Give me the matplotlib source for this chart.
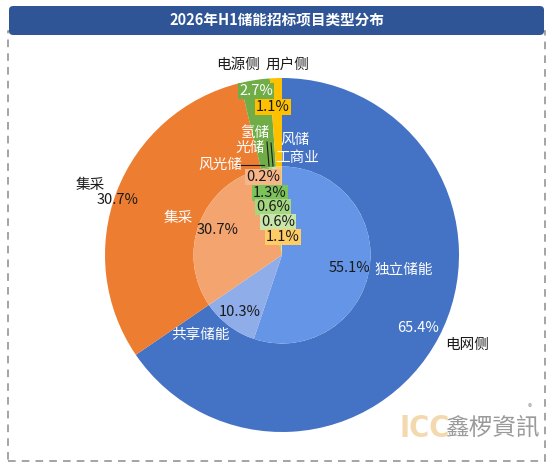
import matplotlib
matplotlib.use("Agg")
import matplotlib.pyplot as plt
from matplotlib.patches import FancyBboxPatch, Rectangle

plt.rcParams['font.family'] = ['Noto Sans CJK SC', 'DejaVu Sans']

# outer ring: segment groups
outer_names = ["电网侧", "集采", "电源侧", "用户侧"]
outer_vals = [65.4, 30.7, 2.7, 1.1]
outer_colors = ["#4472C4", "#ED7D31", "#70AD47", "#FFC000"]

# inner pie: project types
inner_names = ["独立储能", "共享储能", "集采", "风光储", "光储", "氢储", "风储", "工商业"]
inner_vals = [55.1, 10.3, 30.7, 0.2, 1.3, 0.6, 0.6, 1.1]
inner_colors = ["#6495E6", "#8FADE8", "#F4A46E", "#F6B68A", "#7CC35C", "#A5D680", "#C8E6AA", "#FFCC66"]

W, H = 554, 469
CX, CY, R = 282, 255, 177


def d(px, py):
    # pixel position -> data coords of the pie axes
    return (px - CX) / R, (CY - py) / R


fig = plt.figure(figsize=(W / 100, H / 100), dpi=100)
fig.patch.set_facecolor("white")

# dashed frame + title bar
frame = Rectangle((8 / W, 1 - 461 / H), 537 / W, 430 / H, transform=fig.transFigure,
                  fill=False, ec="#8c8c8c", lw=1.1, ls=(0, (5, 4)))
fig.patches.append(frame)
bar = FancyBboxPatch((9 / W, 1 - 35 / H), 535 / W, 29 / H, transform=fig.transFigure,
                     boxstyle="round,pad=0,rounding_size=0.008", fc="#2F5597", ec="none")
fig.patches.append(bar)
fig.text(0.5, 1 - 20 / H, "2026年H1储能招标项目类型分布", ha="center", va="center",
         color="white", fontsize=10.5, fontweight="bold")

ax = fig.add_axes([(CX - R) / W, (H - CY - R) / H, 2 * R / W, 2 * R / H])

ax.pie(outer_vals, radius=1.0, colors=outer_colors, startangle=90, counterclock=False,
       wedgeprops=dict(width=0.5, edgecolor="none"))
ax.pie(inner_vals, radius=0.5, colors=inner_colors, startangle=90, counterclock=False,
       wedgeprops=dict(edgecolor="none"))
ax.set_xlim(-1, 1)
ax.set_ylim(-1, 1)
ax.set_aspect("equal")
ax.axis("off")

fs = 10.5

# outer ring labels
outer_pct_pos = [(418, 328), (118, 200), (256, 91), (273, 107)]
outer_pct_col = ["white", "#1a1a1a", "white", "#1a1a1a"]
outer_name_pos = [(467, 345), (90, 185), (238, 65), (287, 65)]
for i, v in enumerate(outer_vals):
    x, y = d(*outer_pct_pos[i])
    box = None
    if v < 5:
        box = dict(boxstyle="square,pad=0.1", fc=outer_colors[i], ec="none")
    ax.text(x, y, f"{v:.1f}%", ha="center", va="center", fontsize=fs,
            color=outer_pct_col[i], bbox=box, zorder=5)
    x, y = d(*outer_name_pos[i])
    ax.text(x, y, outer_names[i], ha="center", va="center", fontsize=fs, color="#1a1a1a")

# inner pie labels
inner_pct_pos = [(350, 268), (240, 312), (218, 230), (263, 177), (270, 193),
                 (273, 207), (278, 222), (283, 237)]
inner_name_pos = [(404, 270), (200, 335), (178, 218), (220, 165), (250, 148),
                  (255, 133), (295, 140), (297, 158)]
for i, v in enumerate(inner_vals):
    x, y = d(*inner_pct_pos[i])
    box = None
    if v < 5:
        box = dict(boxstyle="square,pad=0.1", fc=inner_colors[i], ec="none")
    ax.text(x, y, f"{v:.1f}%", ha="center", va="center", fontsize=fs,
            color="#1a1a1a", bbox=box, zorder=5)
    x, y = d(*inner_name_pos[i])
    ax.text(x, y, inner_names[i], ha="center", va="center", fontsize=fs, color="white", zorder=5)

# leader lines for the tiny slices
for (x0, y0), (x1, y1) in [((238, 165), (264, 165)), ((267, 142), (269, 166)),
                           ((271, 143), (273, 166))]:
    a, b = d(x0, y0)
    c, e = d(x1, y1)
    ax.plot([a, c], [b, e], color="#1a1a1a", lw=0.8, zorder=4)

# watermark
fig.text(400 / W, 1 - 428 / H, "ICC", ha="left", va="center", fontsize=22,
         fontweight="bold", color="#F5D9AE", family=["DejaVu Sans"], fontstretch="condensed")
fig.text(445 / W, 1 - 428 / H, "鑫椤資訊", ha="left", va="center", fontsize=17,
         color="#9a9a9a", family=["Noto Sans CJK TC", "DejaVu Sans"])
fig.text(530 / W, 1 - 408 / H, "®", ha="center", va="center", fontsize=6, color="#9a9a9a")

fig.savefig("out.png", dpi=100)
